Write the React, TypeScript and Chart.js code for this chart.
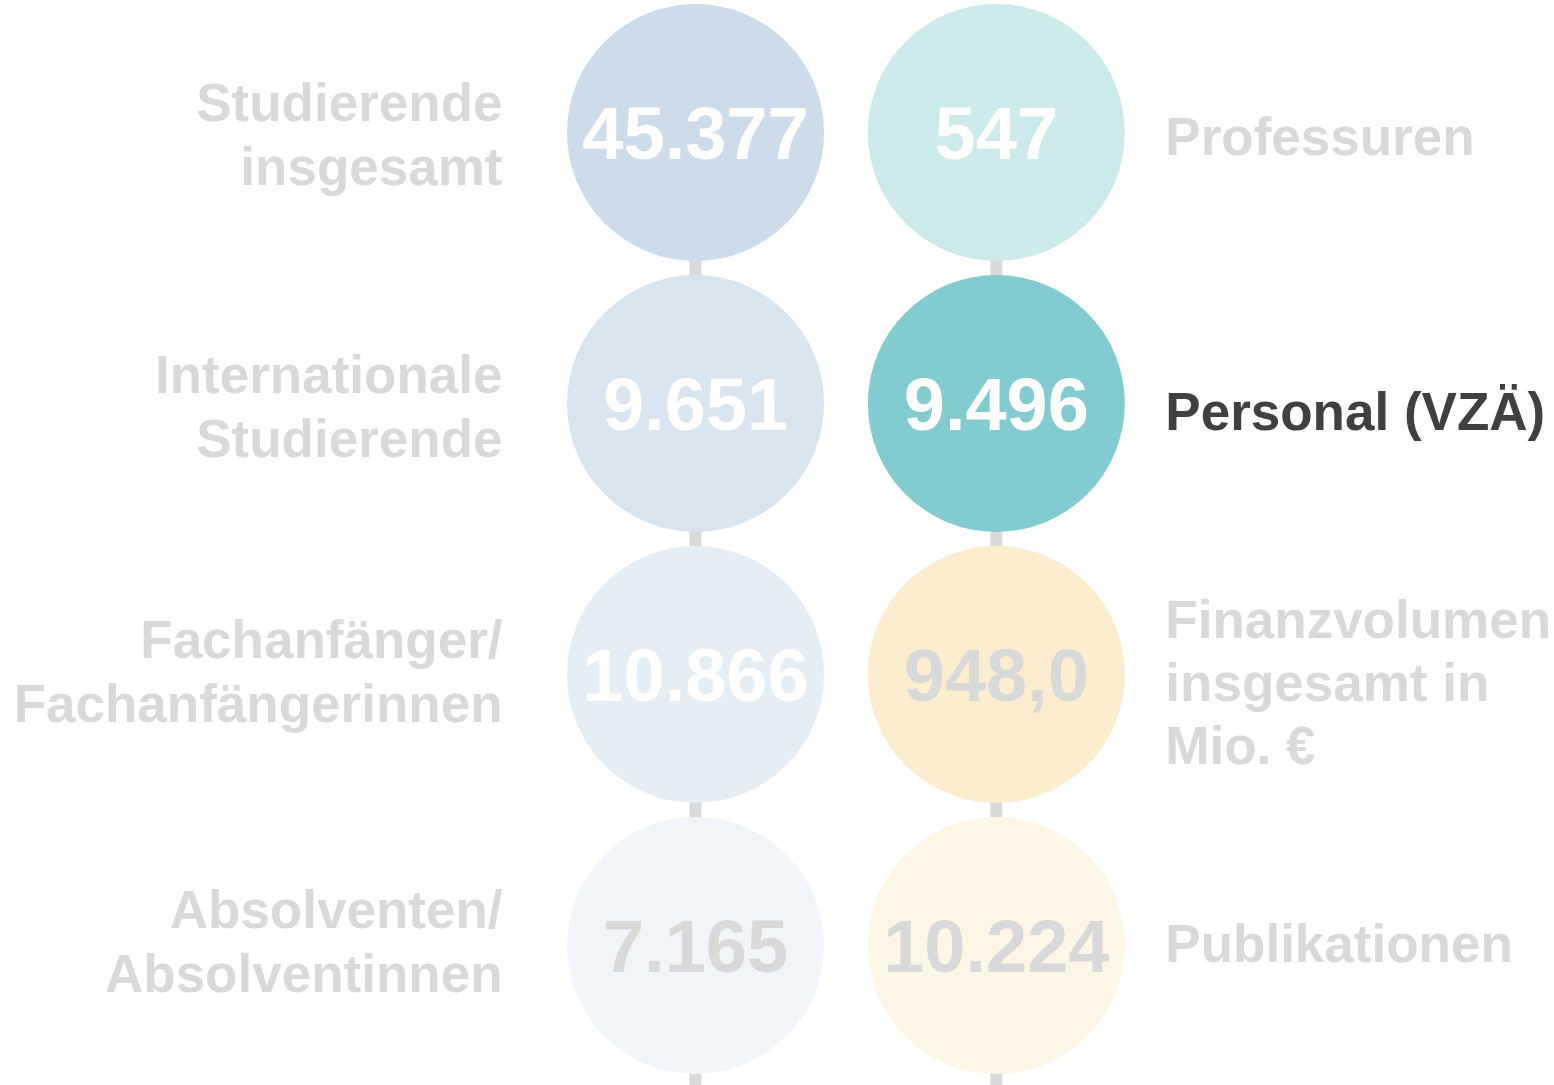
import React, { useEffect, useRef } from "react";
import { Chart, registerables } from "chart.js";

Chart.register(...registerables);

// ---- data ----
const leftLabels: string[][] = [
  ["Studierende", "insgesamt"],
  ["Internationale", "Studierende"],
  ["Fachanfänger/", "Fachanfängerinnen"],
  ["Absolventen/", "Absolventinnen"],
];
const leftValues: number[] = [45377, 9651, 10866, 7165];
const leftDecimals: number[] = [0, 0, 0, 0];

const rightLabels: string[][] = [
  ["Professuren"],
  ["Personal (VZÄ)"],
  ["Finanzvolumen", "insgesamt in", "Mio. €"],
  ["Publikationen"],
];
const rightValues: number[] = [547, 9496, 948.0, 10224];
const rightDecimals: number[] = [0, 0, 1, 0];

const highlightColumn = 1;
const highlightRow = 1;

// ---- styles ----
const leftFill = ["#ccdcea", "#d8e4f0", "#e5edf5", "#f1f5fa"];
const rightFill = ["#cceaec", "#82cbd0", "#fdedcf", "#fdf6e4"];
const leftValueColor = ["#ffffff", "#ffffff", "#ffffff", "#d9d9d9"];
const rightValueColor = ["#ffffff", "#ffffff", "#d9d9d9", "#d9d9d9"];
const leftLabelNudge = [0, 1, -5.5, -6];
const rightLabelNudge = [1.5, 5.5, 5.5, -4.5];
const labelColor = "#d9d9d9";
const highlightLabelColor = "#404040";
const connectorColor = "#d9d9d9";
const FONT = '"Liberation Sans", Arial, sans-serif';

function formatDE(v: number, dec: number): string {
  const fixed = v.toFixed(dec);
  const [intPart, decPart] = fixed.split(".");
  const withSep = intPart.replace(/\B(?=(\d{3})+(?!\d))/g, ".");
  return decPart ? withSep + "," + decPart : withSep;
}

export default function App() {
  const ref = useRef<HTMLCanvasElement | null>(null);

  useEffect(() => {
    document.body.style.margin = "0";
    const canvas = ref.current;
    if (!canvas) return;

    const columns = [
      { labels: leftLabels, values: leftValues, decimals: leftDecimals, valueColors: leftValueColor, nudge: leftLabelNudge, side: "left" },
      { labels: rightLabels, values: rightValues, decimals: rightDecimals, valueColors: rightValueColor, nudge: rightLabelNudge, side: "right" },
    ];

    const connectorPlugin = {
      id: "connectors",
      beforeDatasetsDraw(chart: any) {
        const ctx = chart.ctx;
        const xs = chart.scales.x;
        const ys = chart.scales.y;
        ctx.save();
        ctx.strokeStyle = connectorColor;
        ctx.lineWidth = 12;
        columns.forEach((_c, ci) => {
          const px = xs.getPixelForValue(ci);
          ctx.beginPath();
          ctx.moveTo(px, ys.getPixelForValue(0));
          ctx.lineTo(px, chart.height);
          ctx.stroke();
        });
        ctx.restore();
      },
    };

    const textPlugin = {
      id: "texts",
      afterDatasetsDraw(chart: any) {
        const ctx = chart.ctx;
        const xs = chart.scales.x;
        const ys = chart.scales.y;
        ctx.save();
        columns.forEach((col, ci) => {
          const px = xs.getPixelForValue(ci);
          col.values.forEach((v, ri) => {
            const py = ys.getPixelForValue(ri);
            // value
            ctx.font = `bold 74px ${FONT}`;
            ctx.textAlign = "center";
            ctx.textBaseline = "alphabetic";
            ctx.fillStyle = col.valueColors[ri];
            ctx.fillText(formatDE(v, col.decimals[ri]), px, py + 26.5);
            // label
            const lines = col.labels[ri];
            ctx.font = `bold 53px ${FONT}`;
            const hl = ci === highlightColumn && ri === highlightRow;
            ctx.fillStyle = hl ? highlightLabelColor : labelColor;
            let lx: number;
            if (col.side === "left") {
              ctx.textAlign = "right";
              lx = px - 193;
            } else {
              ctx.textAlign = "left";
              lx = px + 169;
            }
            const lh = lines.length > 2 ? 63 : 64;
            const first = py + 21 + col.nudge[ri] - ((lines.length - 1) * lh) / 2;
            lines.forEach((line, li) => {
              ctx.fillText(line, lx, first + li * lh);
            });
          });
        });
        ctx.restore();
      },
    };

    const chart = new Chart(canvas, {
      type: "scatter",
      data: {
        datasets: [
          {
            label: "links",
            data: leftValues.map((_v, i) => ({ x: 0, y: i })),
            backgroundColor: leftFill,
            borderWidth: 0,
            pointRadius: 128.5,
            pointHoverRadius: 128.5,
            clip: false as any,
          },
          {
            label: "rechts",
            data: rightValues.map((_v, i) => ({ x: 1, y: i })),
            backgroundColor: rightFill,
            borderWidth: 0,
            pointRadius: 128.5,
            pointHoverRadius: 128.5,
            clip: false as any,
          },
        ],
      },
      options: {
        animation: false,
        responsive: false,
        devicePixelRatio: 1,
        events: [],
        layout: { padding: 0, autoPadding: false },
        plugins: {
          legend: { display: false },
          tooltip: { enabled: false },
        },
        scales: {
          x: {
            type: "linear",
            display: false,
            min: -2.3122,
            max: 2.854,
          },
          y: {
            type: "linear",
            display: false,
            reverse: true,
            min: -0.4889,
            max: 3.5148,
          },
        },
      },
      plugins: [connectorPlugin, textPlugin],
    });

    return () => chart.destroy();
  }, []);

  return (
    <div style={{ width: 1554, height: 1085, background: "#ffffff" }}>
      <canvas ref={ref} width={1554} height={1085} />
    </div>
  );
}
